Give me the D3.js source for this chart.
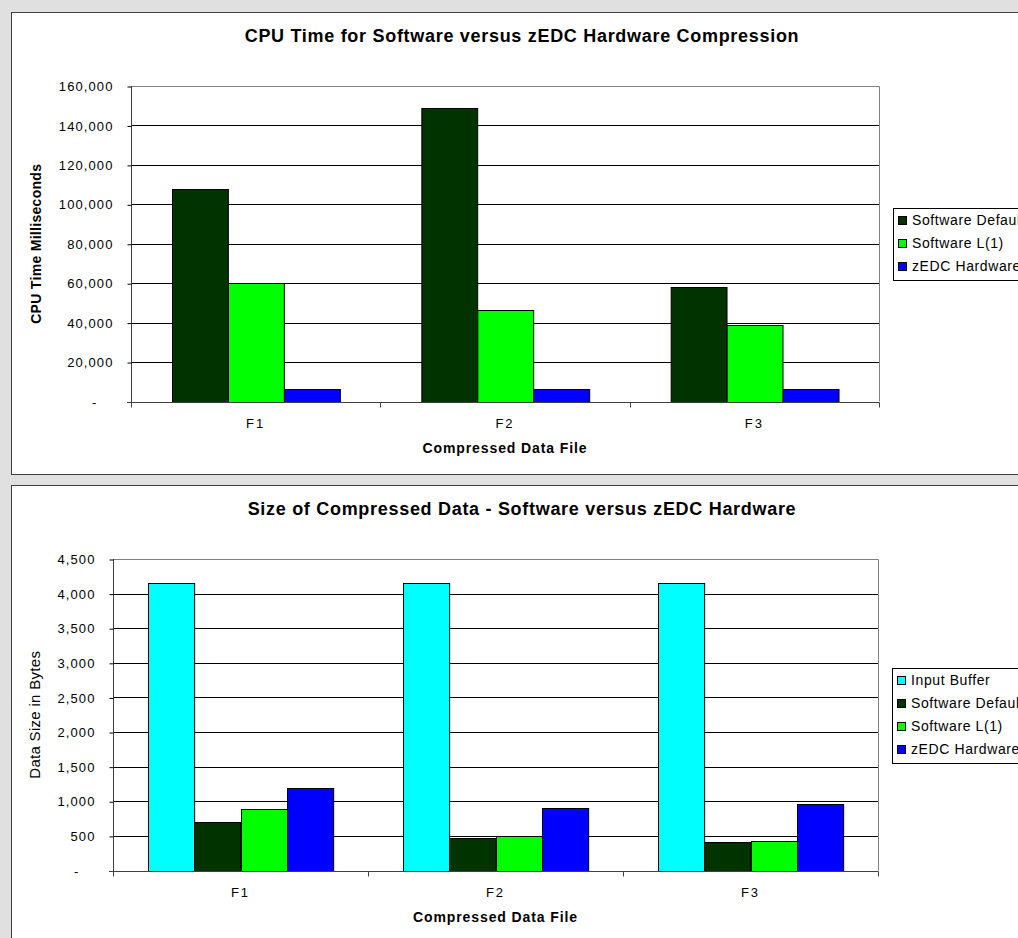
<!DOCTYPE html>
<html>
<head>
<meta charset="utf-8">
<script src="https://cdn.jsdelivr.net/npm/d3@7"></script>
<style>
  body { margin: 0; background: #e0e0e0; overflow: hidden; }
  text { font-family: "Liberation Sans", Arial, sans-serif; fill: #000; }
</style>
</head>
<body>
<div id="chart"></div>
<script>
// DATA
const files = ["F1", "F2", "F3"];

// chart 1: CPU time (ms)
const cpuSeries = ["Software Default", "Software L(1)", "zEDC Hardware"];
const cpuSoftwareDefault = [108000, 149000, 58000];
const cpuSoftwareL1 = [60000, 46300, 38700];
const cpuZedc = [6400, 6300, 6300];
const cpuTicks = [0, 20000, 40000, 60000, 80000, 100000, 120000, 140000, 160000];

// chart 2: compressed size (bytes)
const sizeSeries = ["Input Buffer", "Software Default", "Software L(1)", "zEDC Hardware"];
const sizeInputBuffer = [4160, 4160, 4160];
const sizeSoftwareDefault = [700, 468, 410];
const sizeSoftwareL1 = [888, 497, 420];
const sizeZedc = [1192, 903, 967];
const sizeTicks = [0, 500, 1000, 1500, 2000, 2500, 3000, 3500, 4000, 4500];

const colors = {
    "Input Buffer": "#00ffff",
    "Software Default": "#003300",
    "Software L(1)": "#00ff00",
    "zEDC Hardware": "#0000ff"
};

const W = 1018, H = 938;
const svg = d3.select("#chart").append("svg")
    .attr("width", W)
    .attr("height", H);

// white panels
svg.append("rect").attr("x", 11.5).attr("y", 12.5).attr("width", 1100).attr("height", 462)
    .attr("fill", "#fff").attr("stroke", "#404040");
svg.append("rect").attr("x", 11.5).attr("y", 485.5).attr("width", 1100).attr("height", 500)
    .attr("fill", "#fff").attr("stroke", "#404040");

function drawChart(o) {
    const g = svg.append("g");
    const iw = o.right - o.left;

    const x0 = d3.scaleBand().domain(files).range([o.left, o.right]).padding(0);
    const x1 = d3.scaleBand().domain(o.series)
        .range([x0.bandwidth() * o.gap, x0.bandwidth() * (1 - o.gap)]);
    const y = d3.scaleLinear().domain([0, o.max]).range([o.bottom, o.top]);

    // gridlines
    g.append("g").selectAll("line")
        .data(o.ticks.slice(1, -1))
        .join("line")
        .attr("x1", o.left).attr("x2", o.right)
        .attr("y1", d => Math.round(y(d)) + 0.5).attr("y2", d => Math.round(y(d)) + 0.5)
        .attr("stroke", "#000");

    // plot border top & right
    g.append("path")
        .attr("d", `M${o.left},${Math.round(y(o.max)) + 0.5}H${o.right + 0.5}V${o.bottom}`)
        .attr("fill", "none").attr("stroke", "#808080");

    // bars
    const rows = files.map((f, i) => ({ file: f, values: o.series.map((s, j) => ({ s, v: o.values[j][i] })) }));
    g.append("g").selectAll("g")
        .data(rows)
        .join("g")
        .attr("transform", d => `translate(${x0(d.file)},0)`)
        .selectAll("rect")
        .data(d => d.values)
        .join("rect")
        .attr("x", d => Math.round(x1(d.s)) + 0.5)
        .attr("y", d => Math.round(y(d.v)) + 0.5)
        .attr("width", x1.bandwidth())
        .attr("height", d => Math.round(y(0)) - Math.round(y(d.v)))
        .attr("fill", d => colors[d.s])
        .attr("stroke", "#000")
        .attr("stroke-width", 1);

    // y axis
    const yAxis = g.append("g")
        .attr("transform", `translate(${o.left + 0.5},0.5)`)
        .call(d3.axisLeft(y).tickValues(o.ticks).tickSize(4).tickPadding(o.tickPad)
            .tickFormat(d => d === 0 ? "-" : d3.format(",")(d)));
    yAxis.select(".domain").attr("stroke", "#404040").attr("d", `M0,${o.top - 0.5}V${o.bottom + 4}`);
    yAxis.selectAll(".tick line").attr("stroke", "#000");
    yAxis.selectAll(".tick text")
        .style("font-size", "13px")
        .style("letter-spacing", "1.1px")
        .attr("fill", "#000");
    yAxis.selectAll(".tick").filter(d => d === 0).select("text").attr("dx", -16);

    // x axis with ticks at category boundaries
    const xg = g.append("g").attr("transform", `translate(0,${Math.round(o.bottom) + 0.5})`);
    xg.append("line").attr("x1", o.left - 4).attr("x2", o.right + 0.5).attr("stroke", "#404040");
    xg.selectAll(".bt")
        .data(files.concat(["end"]))
        .join("line")
        .attr("class", "bt")
        .attr("x1", (d, i) => Math.round(o.left + i * x0.step()) + 0.5)
        .attr("x2", (d, i) => Math.round(o.left + i * x0.step()) + 0.5)
        .attr("y1", 0).attr("y2", 5)
        .attr("stroke", "#404040");
    xg.selectAll(".cat")
        .data(files)
        .join("text")
        .attr("class", "cat")
        .attr("x", d => x0(d) + x0.bandwidth() / 2)
        .attr("y", 25)
        .attr("text-anchor", "middle")
        .style("font-size", "13px")
        .style("letter-spacing", "2px")
        .text(d => d);

    // x axis title
    g.append("text")
        .attr("x", o.left + iw / 2)
        .attr("y", o.bottom + 51)
        .attr("text-anchor", "middle")
        .style("font-size", "14px")
        .style("font-weight", "bold")
        .style("letter-spacing", "0.9px")
        .text("Compressed Data File");

    // y axis title
    g.append("text")
        .attr("transform", `translate(${o.yLabelX},${(o.top + o.bottom) / 2}) rotate(-90)`)
        .attr("text-anchor", "middle")
        .style("font-size", o.yLabelSize)
        .style("font-weight", o.yLabelWeight)
        .style("letter-spacing", "0.3px")
        .text(o.yLabel);

    // title
    g.append("text")
        .attr("x", 522)
        .attr("y", o.titleY)
        .attr("text-anchor", "middle")
        .style("font-size", "18px")
        .style("font-weight", "bold")
        .style("letter-spacing", "0.7px")
        .text(o.title);

    // legend
    const lg = g.append("g").attr("transform", `translate(${o.legendX},${o.legendY})`);
    lg.append("rect")
        .attr("x", 0.5).attr("y", 0.5)
        .attr("width", 200).attr("height", o.series.length * 23 + 3)
        .attr("fill", "#fff").attr("stroke", "#000");
    const item = lg.selectAll(".item")
        .data(o.series)
        .join("g")
        .attr("class", "item")
        .attr("transform", (d, i) => `translate(0,${12 + i * 23})`);
    item.append("rect")
        .attr("x", 5.5).attr("y", -3.5)
        .attr("width", 8).attr("height", 8)
        .attr("fill", d => colors[d])
        .attr("stroke", "#000");
    item.append("text")
        .attr("x", 19)
        .attr("y", 5)
        .style("font-size", "14px")
        .style("letter-spacing", "0.6px")
        .text(d => d);
}

drawChart({
    title: "CPU Time for Software versus zEDC Hardware Compression",
    titleY: 42,
    series: cpuSeries,
    values: [cpuSoftwareDefault, cpuSoftwareL1, cpuZedc],
    max: 160000,
    ticks: cpuTicks,
    left: 131, right: 879, top: 86, bottom: 401.5,
    gap: 0.164,
    tickPad: 14,
    yLabel: "CPU Time Milliseconds",
    yLabelX: 41, yLabelSize: "14px", yLabelWeight: "bold",
    legendX: 893, legendY: 208
});

drawChart({
    title: "Size of Compressed Data - Software versus zEDC Hardware",
    titleY: 515,
    series: sizeSeries,
    values: [sizeInputBuffer, sizeSoftwareDefault, sizeSoftwareL1, sizeZedc],
    max: 4500,
    ticks: sizeTicks,
    left: 113, right: 878, top: 559, bottom: 870.5,
    gap: 0.138,
    tickPad: 14,
    yLabel: "Data Size in Bytes",
    yLabelX: 40, yLabelSize: "15px", yLabelWeight: "normal",
    legendX: 892, legendY: 668
});
</script>
</body>
</html>
